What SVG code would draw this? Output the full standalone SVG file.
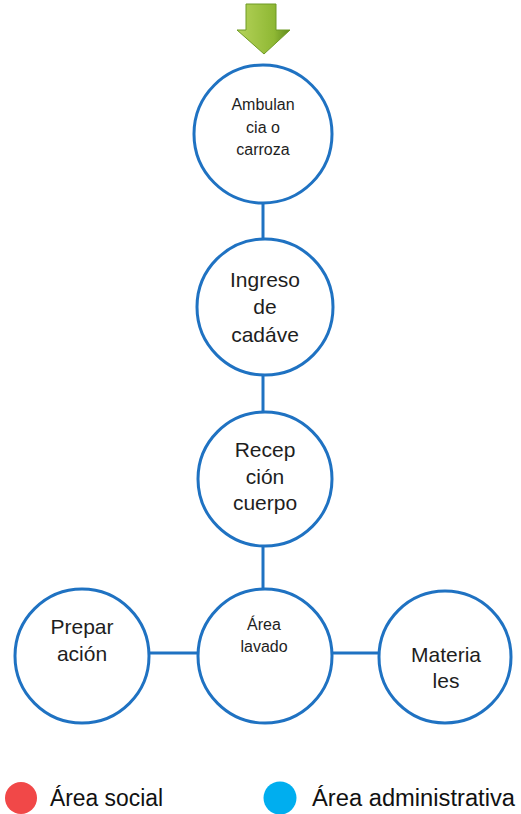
<svg xmlns="http://www.w3.org/2000/svg" width="521" height="814" viewBox="0 0 521 814">
<defs>
<style>
.node{fill:#fff;stroke:#1f72c2;stroke-width:3}
.conn line{stroke:#1f72c2;stroke-width:3}
.t{font-family:"Liberation Sans",Arial,sans-serif;fill:#1e1e1e;text-anchor:middle}
.leg{font-family:"Liberation Sans",Arial,sans-serif;fill:#111;font-size:23px}
</style>
<linearGradient id="ag" x1="0" y1="0" x2="1" y2="0">
<stop offset="0" stop-color="#b5d35a"/>
<stop offset="0.7" stop-color="#8fb834"/>
<stop offset="1" stop-color="#5f8a1c"/>
</linearGradient>
</defs>
<rect width="521" height="814" fill="#fff"/>
<g id="arrow">
<path d="M246 4 H276 V30 H290 L264 54 L237 30 H246 Z" fill="url(#ag)" stroke="#6f9a24" stroke-width="1"/>
</g>
<g class="conn">
<line x1="263" y1="203" x2="263" y2="240"/>
<line x1="263" y1="375" x2="263" y2="412"/>
<line x1="263" y1="545" x2="263" y2="588"/>
<line x1="150" y1="653" x2="198" y2="653"/>
<line x1="333" y1="653" x2="378" y2="653"/>
</g>
<g id="n1">
<circle class="node" cx="263" cy="134" r="69"/>
<text class="t" font-size="16"><tspan x="263" y="110">Ambulan</tspan><tspan x="263" y="133">cia o</tspan><tspan x="263" y="155">carroza</tspan></text>
</g>
<g id="n2">
<circle class="node" cx="265" cy="307" r="68"/>
<text class="t" font-size="21"><tspan x="265" y="287">Ingreso</tspan><tspan x="265" y="314">de</tspan><tspan x="265" y="342">cadáve</tspan></text>
</g>
<g id="n3">
<circle class="node" cx="265" cy="479" r="67"/>
<text class="t" font-size="21"><tspan x="265" y="457">Recep</tspan><tspan x="265" y="484">ción</tspan><tspan x="265" y="510">cuerpo</tspan></text>
</g>
<g id="n4">
<circle class="node" cx="265" cy="656" r="67"/>
<text class="t" font-size="16"><tspan x="264" y="630">Área</tspan><tspan x="264" y="652">lavado</tspan></text>
</g>
<g id="n5">
<circle class="node" cx="82" cy="656" r="67"/>
<text class="t" font-size="21"><tspan x="82" y="634">Prepar</tspan><tspan x="82" y="661">ación</tspan></text>
</g>
<g id="n6">
<circle class="node" cx="445" cy="657" r="66"/>
<text class="t" font-size="21"><tspan x="446" y="662">Materia</tspan><tspan x="446" y="688">les</tspan></text>
</g>
<g id="legend">
<circle cx="21" cy="798" r="16" fill="#f14848"/>
<text class="leg" x="50" y="806" textLength="113" lengthAdjust="spacingAndGlyphs">Área social</text>
<circle cx="280" cy="798" r="16.5" fill="#00aeef"/>
<text class="leg" x="312" y="806" textLength="203" lengthAdjust="spacingAndGlyphs">Área administrativa</text>
</g>
</svg>
